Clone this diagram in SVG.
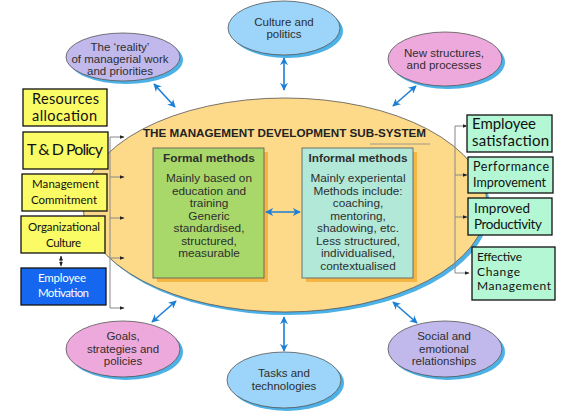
<svg xmlns="http://www.w3.org/2000/svg" width="570" height="420" viewBox="0 0 570 420">
<defs>
<style>
.ell{stroke:#555;stroke-width:0.8}
.sh{fill:#4cb1e6}
.et{font-family:"Liberation Sans",Arial,sans-serif;font-size:11.5px;fill:#2e2e2e;text-anchor:middle}
.bt{font-family:"Liberation Sans",Arial,sans-serif;font-size:11.8px;fill:#2e2e2e;text-anchor:middle}
.yb{fill:#fbfb66;stroke:#111;stroke-width:1.3}
.gb{fill:#b3f7d4;stroke:#111;stroke-width:1.3}
.pt{font-family:Lato,"Open Sans",sans-serif;fill:#111}
.blue{stroke:#1b7fd6;stroke-width:1.6;fill:none;marker-start:url(#ba);marker-end:url(#ba)}
.gl{stroke:#888;stroke-width:1;fill:none}
.ga{stroke:#888;stroke-width:1;fill:none;marker-end:url(#ka)}
</style>
<marker id="ba" viewBox="0 0 10 10" refX="9" refY="5" markerWidth="5" markerHeight="5" orient="auto-start-reverse" markerUnits="strokeWidth"><path d="M0,0 L10,5 L0,10 L3,5 z" fill="#1b7fd6"/></marker>
<marker id="ka" viewBox="0 0 10 10" refX="9" refY="5" markerWidth="5" markerHeight="5" orient="auto-start-reverse" markerUnits="strokeWidth"><path d="M0,1 L10,5 L0,9 z" fill="#222"/></marker>
</defs>
<rect width="570" height="420" fill="#fff"/>

<g id="subsystem">
<ellipse cx="288" cy="208" rx="202" ry="107" class="sh"/>
<ellipse cx="285" cy="205" rx="202" ry="107" fill="#fdd98a" class="ell"/>
<text x="143" y="137" font-family="'Liberation Sans',Arial,sans-serif" font-size="11.5" font-weight="bold" fill="#222" textLength="283" lengthAdjust="spacingAndGlyphs">THE MANAGEMENT DEVELOPMENT SUB-SYSTEM</text>
<line x1="370" y1="144" x2="430" y2="144" stroke="#888" stroke-width="0.8"/>
</g>

<g id="formal">
<rect x="157" y="152" width="111" height="130" fill="#f5b544"/>
<rect x="153" y="148" width="111" height="130" fill="#a8d86a" stroke="#555" stroke-width="0.8"/>
<text x="209" y="162" class="bt" font-weight="bold">Formal methods</text>
<text class="bt"><tspan x="209" y="182">Mainly based on</tspan><tspan x="209" y="194.5">education and</tspan><tspan x="209" y="207">training</tspan><tspan x="209" y="219.5">Generic</tspan><tspan x="209" y="232">standardised,</tspan><tspan x="209" y="244.5">structured,</tspan><tspan x="209" y="257">measurable</tspan></text>
</g>

<g id="informal">
<rect x="306" y="152" width="111" height="130" fill="#f5b544"/>
<rect x="302" y="148" width="111" height="130" fill="#b2e8d8" stroke="#555" stroke-width="0.8"/>
<text x="358" y="162" class="bt" font-weight="bold">Informal methods</text>
<text class="bt"><tspan x="358" y="182">Mainly experiental</tspan><tspan x="358" y="194.5">Methods include:</tspan><tspan x="358" y="207">coaching,</tspan><tspan x="358" y="219.5">mentoring,</tspan><tspan x="358" y="232">shadowing, etc.</tspan><tspan x="358" y="244.5">Less structured,</tspan><tspan x="358" y="257">individualised,</tspan><tspan x="358" y="269.5">contextualised</tspan></text>
</g>

<g id="reality">
<ellipse cx="126" cy="60" rx="57" ry="24" class="sh"/>
<ellipse cx="123" cy="57" rx="57" ry="24" fill="#c1b9ec" class="ell"/>
<text class="et"><tspan x="120" y="51">The ‘reality’</tspan><tspan x="120" y="63">of managerial work</tspan><tspan x="120" y="75">and priorities</tspan></text>
</g>

<g id="culture">
<ellipse cx="287" cy="31" rx="56" ry="27" class="sh"/>
<ellipse cx="284" cy="28" rx="56" ry="27" fill="#9cd5f9" class="ell"/>
<text class="et"><tspan x="284" y="26">Culture and</tspan><tspan x="284" y="38">politics</tspan></text>
</g>

<g id="structures">
<ellipse cx="448" cy="62" rx="57" ry="27" class="sh"/>
<ellipse cx="445" cy="59" rx="57" ry="27" fill="#eea9dc" class="ell"/>
<text class="et"><tspan x="444" y="57">New structures,</tspan><tspan x="444" y="69">and processes</tspan></text>
</g>

<g id="goals">
<ellipse cx="126" cy="352" rx="57" ry="28" class="sh"/>
<ellipse cx="123" cy="349" rx="57" ry="28" fill="#eea9dc" class="ell"/>
<text class="et"><tspan x="123" y="340">Goals,</tspan><tspan x="123" y="352.5">strategies and</tspan><tspan x="123" y="365">policies</tspan></text>
</g>

<g id="tasks">
<ellipse cx="287" cy="383" rx="57" ry="28" class="sh"/>
<ellipse cx="284" cy="380" rx="57" ry="28" fill="#9cd5f9" class="ell"/>
<text class="et"><tspan x="284" y="377">Tasks and</tspan><tspan x="284" y="390">technologies</tspan></text>
</g>

<g id="social">
<ellipse cx="448" cy="352" rx="57" ry="28" class="sh"/>
<ellipse cx="445" cy="349" rx="57" ry="28" fill="#c1b9ec" class="ell"/>
<text class="et"><tspan x="444" y="340">Social and</tspan><tspan x="444" y="352.5">emotional</tspan><tspan x="444" y="365">relationships</tspan></text>
</g>

<g id="resources">
<rect x="23" y="89" width="84" height="37" class="yb"/>
<text class="pt" font-size="14.5"><tspan x="32" y="104" textLength="67">Resources</tspan><tspan x="32" y="121" textLength="65">allocation</tspan></text>
</g>
<g id="tdpolicy">
<rect x="23" y="132" width="85" height="37" class="yb"/>
<text class="pt" font-size="16" x="27" y="155" textLength="76">T &amp; D Policy</text>
</g>
<g id="commitment">
<rect x="22" y="174" width="85" height="37" class="yb"/>
<text class="pt" font-size="11.5"><tspan x="32" y="188" textLength="67">Management</tspan><tspan x="31" y="204" textLength="66">Commitment</tspan></text>
</g>
<g id="orgculture">
<rect x="21" y="216" width="84" height="37" class="yb"/>
<text class="pt" font-size="11.5"><tspan x="28" y="231" textLength="72">Organizational</tspan><tspan x="46" y="247" textLength="35">Culture</tspan></text>
</g>
<g id="motivation">
<rect x="21" y="268" width="85" height="37" fill="#1467ee" stroke="#111" stroke-width="1.3"/>
<text class="pt" font-size="11.5" style="fill:#fff"><tspan x="38" y="282" textLength="48">Employee</tspan><tspan x="38" y="297" textLength="51">Motivation</tspan></text>
</g>

<g id="satisfaction">
<rect x="467" y="115" width="85" height="37" class="gb"/>
<text class="pt" font-size="15"><tspan x="472" y="129" textLength="64">Employee</tspan><tspan x="472" y="146" textLength="77">satisfaction</tspan></text>
</g>
<g id="performance">
<rect x="468" y="157" width="85" height="36" class="gb"/>
<text class="pt" font-size="12.5"><tspan x="473" y="171" textLength="76">Performance</tspan><tspan x="473" y="187" textLength="73">Improvement</tspan></text>
</g>
<g id="productivity">
<rect x="468" y="198" width="84" height="37" class="gb"/>
<text class="pt" font-size="13.5"><tspan x="474" y="213" textLength="56">Improved</tspan><tspan x="474" y="229" textLength="68">Productivity</tspan></text>
</g>
<g id="change">
<rect x="472" y="247" width="83" height="53" class="gb"/>
<text class="pt" font-size="12"><tspan x="477" y="261" textLength="45">Effective</tspan><tspan x="477" y="276" textLength="43">Change</tspan><tspan x="477" y="290" textLength="74">Management</tspan></text>
</g>

<g id="connectors">
<line x1="154" y1="84" x2="175" y2="107" class="blue"/>
<line x1="284" y1="58" x2="284" y2="90" class="blue"/>
<line x1="416" y1="86" x2="393" y2="106" class="blue"/>
<line x1="152" y1="322" x2="176" y2="301" class="blue"/>
<line x1="284" y1="317" x2="284" y2="351" class="blue"/>
<line x1="393" y1="302" x2="417" y2="323" class="blue"/>
<line x1="266" y1="212" x2="300" y2="212" class="blue"/>
<line x1="61" y1="256" x2="61" y2="266" stroke="#555" stroke-width="1" marker-start="url(#ka)" marker-end="url(#ka)"/>
<polyline points="110,137 110,308" class="gl"/>
<line x1="110" y1="137" x2="124" y2="137" class="ga"/>
<line x1="110" y1="177" x2="124" y2="177" class="ga"/>
<line x1="110" y1="218" x2="124" y2="218" class="ga"/>
<line x1="110" y1="258" x2="124" y2="258" class="ga"/>
<line x1="110" y1="308" x2="124" y2="308" class="ga"/>
<polyline points="455,126 455,273" class="gl"/>
<line x1="455" y1="126" x2="467" y2="126" class="ga"/>
<line x1="455" y1="175" x2="467" y2="175" class="ga"/>
<line x1="455" y1="217" x2="467" y2="217" class="ga"/>
<line x1="455" y1="273" x2="469" y2="273" class="ga"/>
</g>
</svg>
